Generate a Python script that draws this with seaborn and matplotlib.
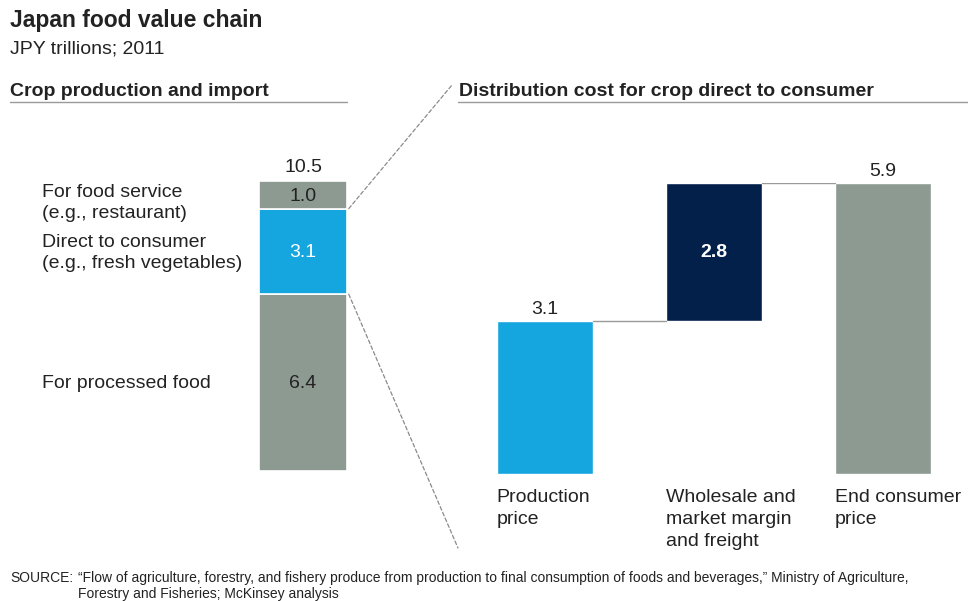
import numpy as np
import pandas as pd
import seaborn as sns
from matplotlib import pyplot as plt
from matplotlib.lines import Line2D
from matplotlib.patches import ConnectionPatch
import matplotlib.transforms as mtransforms

# data
crop_labels = ["For processed food", "Direct to consumer\n(e.g., fresh vegetables)",
               "For food service\n(e.g., restaurant)"]
crop_values = [6.4, 3.1, 1.0]
crop_colors = ["#8D9A92", "#15A6DF", "#8D9A92"]
crop_total = 10.5

step_labels = ["Production\nprice", "Wholesale and\nmarket margin\nand freight", "End consumer\nprice"]
step_values = [3.1, 2.8, 5.9]
step_kind = ["start", "delta", "total"]
step_colors = ["#15A6DF", "#03204A", "#8D9A92"]

sns.set_theme(style="white")
plt.rcParams['font.family'] = ['Liberation Sans', 'DejaVu Sans']
TXT = "#222222"
FS = 14

W, H = 968, 601
fig = plt.figure(figsize=(W / 100, H / 100), dpi=100)


def fx(px):
    return px / W


def fy(py):
    return 1 - py / H


# headings
fig.text(fx(10), fy(20), "Japan food value chain", fontsize=16.5, fontweight="bold", color=TXT, va="center")
fig.text(fx(10), fy(49), "JPY trillions; 2011", fontsize=FS, color=TXT, va="center")
fig.text(fx(10), fy(91), "Crop production and import", fontsize=FS, fontweight="bold", color=TXT, va="center")
fig.text(fx(459), fy(91), "Distribution cost for crop direct to consumer", fontsize=FS,
         fontweight="bold", color=TXT, va="center")
fig.add_artist(Line2D([fx(10), fx(347)], [fy(102), fy(102)], color="#9a9a9a", lw=1))
fig.add_artist(Line2D([fx(458), fx(968)], [fy(102), fy(102)], color="#9a9a9a", lw=1))

# left: stacked bar
axl = fig.add_axes([fx(259), fy(471), fx(347) - fx(259), fy(181) - fy(471)])
bottoms = np.concatenate([[0], np.cumsum(crop_values)[:-1]])
tr = mtransforms.blended_transform_factory(fig.transFigure, axl.transData)
for lab, val, bot, col in zip(crop_labels, crop_values, bottoms, crop_colors):
    df = pd.DataFrame({"x": ["crop"], "y": [val]})
    sns.barplot(data=df, x="x", y="y", bottom=bot, color=col, width=1.0,
                edgecolor="white", linewidth=1.2, saturation=1, ax=axl)
    tcol = "white" if col == "#15A6DF" else TXT
    axl.text(0, bot + val / 2 - 0.05, f"{val:.1f}", ha="center", va="center", fontsize=FS, color=tcol)
    ly = bot + val / 2 - 0.05
    if "\n" in lab and bot + val >= crop_total - 0.01:
        ly -= 0.25
    axl.text(fx(42), ly, lab, transform=tr, ha="left", va="center", fontsize=FS,
             color=TXT, linespacing=1.3, clip_on=False)
axl.text(0, crop_total + 0.5, f"{crop_total:.1f}", ha="center", va="center", fontsize=FS, color=TXT, clip_on=False)
axl.set_xlim(-0.5, 0.5)
axl.set_ylim(0, crop_total)
axl.axis("off")

# zoom lines
hi = crop_values[0] + crop_values[1]
lo = crop_values[0]
for yv, end in [(hi, (452, 85)), (lo, (458, 548))]:
    con = ConnectionPatch(xyA=(0.52, yv), coordsA=axl.transData,
                          xyB=(fx(end[0]), fy(end[1])), coordsB=fig.transFigure,
                          color="#8a8a8a", lw=0.9, linestyle=(0, (3, 2)))
    fig.add_artist(con)

# right: waterfall
axr = fig.add_axes([fx(460.5), fy(474), fx(967.5) - fx(460.5), fy(183) - fy(474)])
running = 0
step_bottoms = []
for kind, val in zip(step_kind, step_values):
    if kind == "delta":
        step_bottoms.append(running)
        running += val
    else:
        step_bottoms.append(0)
        running = val
for lab, val, bot, col in zip(step_labels, step_values, step_bottoms, step_colors):
    dfr = pd.DataFrame({"step": [lab], "value": [val]})
    sns.barplot(data=dfr, x="step", y="value", order=step_labels, bottom=bot, color=col,
                width=0.57, saturation=1, ax=axr)
tops = [b + v for b, v in zip(step_bottoms, step_values)]
for i, (kind, val, bot) in enumerate(zip(step_kind, step_values, step_bottoms)):
    if kind == "delta":
        axr.text(i, bot + val / 2, f"{val:.1f}", ha="center", va="center", fontsize=FS,
                 color="white", fontweight="bold")
    else:
        axr.text(i, val + 0.23, f"{val:.1f}", ha="center", va="center", fontsize=FS, color=TXT)
    axr.text(i - 0.285, -0.3, step_labels[i], ha="left", va="top", fontsize=FS, color=TXT,
             linespacing=1.38, clip_on=False)
for i in range(len(step_values) - 1):
    yv = tops[i]
    axr.plot([i + 0.285, i + 1 - 0.285], [yv, yv], color="#9a9a9a", lw=1)
axr.set_xlim(-0.5, 2.5)
axr.set_ylim(0, 5.9)
axr.set_xlabel("")
axr.set_ylabel("")
axr.axis("off")

# source
src_font = ['Liberation Sans Narrow', 'Liberation Sans', 'DejaVu Sans']
fig.text(fx(10), fy(578), "SOURCE:", fontsize=10, color=TXT, va="center", family=src_font)
fig.text(fx(78), fy(578), "\u201cFlow of agriculture, forestry, and fishery produce from production to final "
         "consumption of foods and beverages,\u201d Ministry of Agriculture,", fontsize=10, color=TXT,
         va="center", family=src_font)
fig.text(fx(78), fy(594), "Forestry and Fisheries; McKinsey analysis", fontsize=10, color=TXT,
         va="center", family=src_font)

fig.savefig("out.png", dpi=100, facecolor="white")
